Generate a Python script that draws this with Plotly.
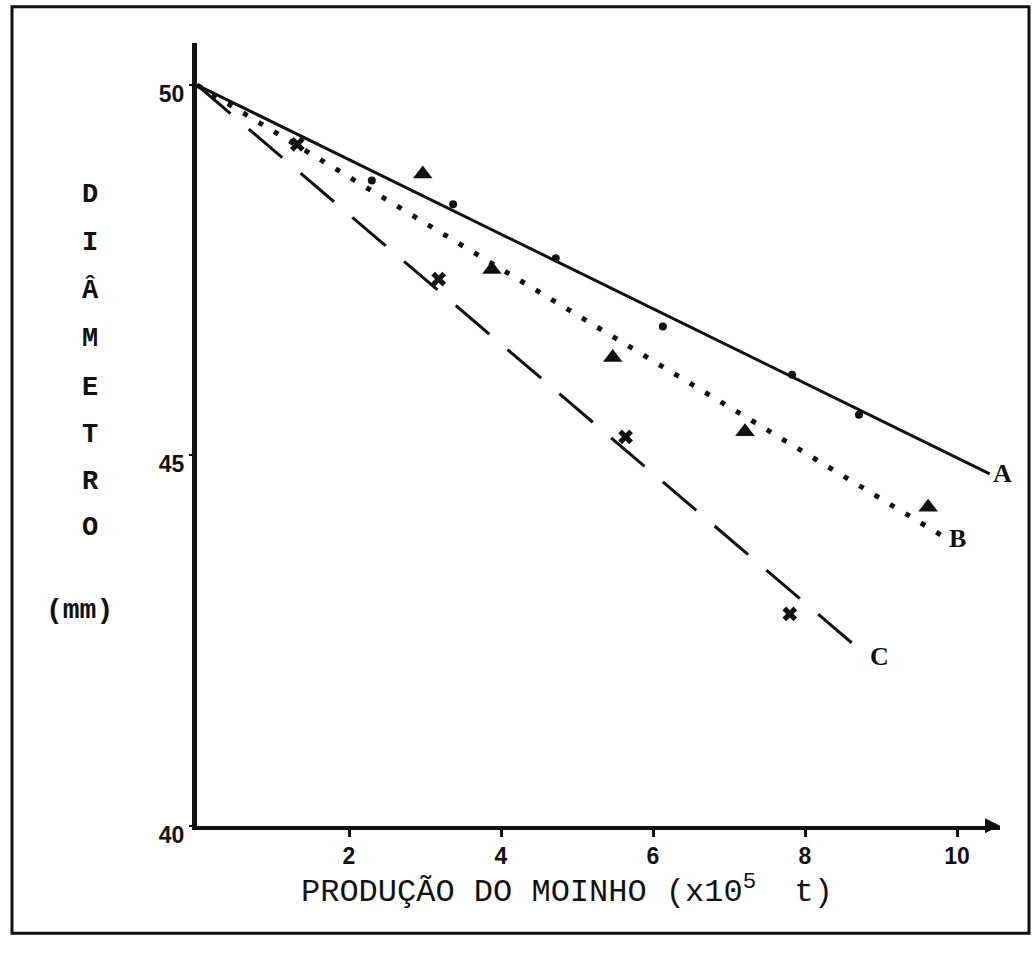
import plotly.graph_objects as go

# ---------------- data ----------------
# Series A (solid line, dot markers)
a_pts_x = [2.30, 3.37, 4.72, 6.13, 7.83, 8.71]
a_pts_y = [48.71, 48.39, 47.66, 46.74, 46.09, 45.55]
a_line_x = [0.0, 10.43]
a_line_y = [50.0, 44.75]

# Series B (dotted line, triangle markers)
b_pts_x = [2.97, 3.88, 5.47, 7.21, 9.62]
b_pts_y = [48.80, 47.51, 46.32, 45.32, 44.30]
b_line_x = [0.0, 9.86]
b_line_y = [50.0, 43.88]

# Series C (dashed line, x markers)
c_pts_x = [1.32, 3.18, 5.64, 7.80]
c_pts_y = [49.20, 47.38, 45.25, 42.86]
c_line_x = [0.0, 8.82]
c_line_y = [50.0, 42.29]

series_names = ["A", "B", "C"]
x_ticks = [2, 4, 6, 8, 10]
y_ticks = [40, 45, 50]
y_title_letters = ["D", "I", "Â", "M", "E", "T", "R", "O"]
y_unit = "(mm)"
x_title = "PRODUÇÃO DO MOINHO (x10<sup>5</sup>  t)"

# ---------------- layout geometry ----------------
W, H = 1032, 964
px_x0, px_x1 = 197, 1000        # plot area left/right pixels
px_y_top, px_y_bot = 44, 845    # plot area top/bottom pixels
x_range = [0, (px_x1 - px_x0) / 76.0]
y_range = [40, 40 + (px_y_bot - px_y_top) / 75.8]

BLACK = "#111111"
mono = "Liberation Mono, Courier New, monospace"
sans = "Liberation Sans, Arial, sans-serif"
serif = "Liberation Serif, Times New Roman, serif"

fig = go.Figure()

# lines
fig.add_trace(go.Scatter(x=a_line_x, y=a_line_y, mode="lines",
                         line=dict(color=BLACK, width=3), showlegend=False))
fig.add_trace(go.Scatter(x=b_line_x, y=b_line_y, mode="lines",
                         line=dict(color=BLACK, width=5, dash="5px,13px"), showlegend=False))
fig.add_trace(go.Scatter(x=c_line_x, y=c_line_y, mode="lines",
                         line=dict(color=BLACK, width=3, dash="44px,24px"), showlegend=False))

# markers
fig.add_trace(go.Scatter(x=a_pts_x, y=a_pts_y, mode="markers",
                         marker=dict(symbol="circle", size=8, color=BLACK), showlegend=False))
fig.add_trace(go.Scatter(x=b_pts_x, y=b_pts_y, mode="markers",
                         marker=dict(symbol="triangle-up", size=17, color=BLACK), showlegend=False))
fig.add_trace(go.Scatter(x=c_pts_x, y=c_pts_y, mode="markers",
                         marker=dict(symbol="x", size=13, color=BLACK), showlegend=False))

annotations = []
# series labels at line ends
for name, lx, ly in zip(series_names, [a_line_x, b_line_x, c_line_x], [a_line_y, b_line_y, c_line_y]):
    annotations.append(dict(x=lx[-1], y=ly[-1], xref="x", yref="y", text=f"<b>{name}</b>",
                            showarrow=False, xanchor="left", yanchor="middle", xshift=1,
                            font=dict(family=serif, size=26, color=BLACK)))

# y-axis title: stacked letters
letter_y_px = [200, 249, 297, 347, 397, 445, 493, 540]
for ch, ypx in zip(y_title_letters, letter_y_px):
    annotations.append(dict(x=90 / W, y=1 - ypx / H, xref="paper", yref="paper",
                            text=f"<b>{ch}</b>", showarrow=False, xanchor="center", yanchor="middle",
                            font=dict(family=mono, size=27, color=BLACK)))
annotations.append(dict(x=79 / W, y=1 - 625 / H, xref="paper", yref="paper",
                        text=f"<b>{y_unit}</b>", showarrow=False, xanchor="center", yanchor="middle",
                        font=dict(family=mono, size=28, color=BLACK)))
# x-axis title
annotations.append(dict(x=567 / W, y=1 - 911 / H, xref="paper", yref="paper",
                        text=x_title, showarrow=False, xanchor="center", yanchor="middle",
                        font=dict(family=mono, size=32, color=BLACK)))
# arrow head at the end of x axis
annotations.append(dict(x=x_range[1], y=40, xref="x", yref="y", text="", showarrow=True,
                        arrowhead=2, arrowsize=1, arrowwidth=3, arrowcolor=BLACK,
                        ax=-14, ay=0))

fig.update_layout(
    width=W, height=H,
    margin=dict(l=0, r=0, t=0, b=0),
    paper_bgcolor="white", plot_bgcolor="white",
    showlegend=False,
    annotations=annotations,
    shapes=[dict(type="rect", xref="paper", yref="paper",
                 x0=12 / W, x1=1029 / W, y0=1 - 955 / H, y1=1 - 7 / H,
                 line=dict(color=BLACK, width=3))],
    xaxis=dict(domain=[px_x0 / W, px_x1 / W], range=x_range,
               tickvals=x_ticks, ticktext=[str(v) for v in x_ticks],
               showgrid=False, zeroline=False,
               showline=True, linecolor=BLACK, linewidth=4,
               ticks="outside", ticklen=7, tickwidth=3, tickcolor=BLACK,
               tickfont=dict(family=sans, size=23, color=BLACK, weight="bold")),
    yaxis=dict(domain=[1 - px_y_bot / H, 1 - px_y_top / H], range=y_range,
               tickvals=y_ticks, ticktext=[str(v) for v in y_ticks],
               showgrid=False, zeroline=False,
               showline=True, linecolor=BLACK, linewidth=5,
               ticks="outside", ticklen=3, tickwidth=2, tickcolor=BLACK,
               ticklabelstandoff=0, ticklabelshift=9,
               tickfont=dict(family=sans, size=23, color=BLACK, weight="bold")),
)

fig.write_html("out.html")
